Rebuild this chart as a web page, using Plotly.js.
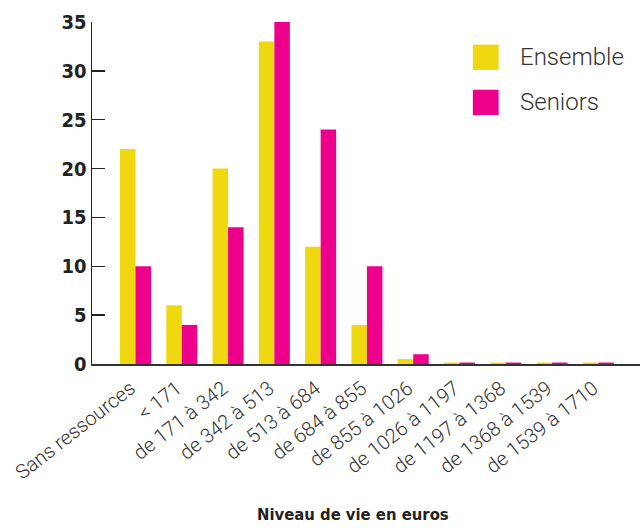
<!DOCTYPE html>
<html><head><meta charset="utf-8">
<script src="https://cdn.plot.ly/plotly-3.0.1.min.js"></script>
<style>body{margin:0;background:#fff}#c{width:640px;height:528px}</style>
</head><body><div id="c"></div>
<script>
const categories = ["Sans ressources","< 171","de 171 à 342","de 342 à 513","de 513 à 684","de 684 à 855","de 855 à 1026","de 1026 à 1197","de 1197 à 1368","de 1368 à 1539","de 1539 à 1710"];
const ensemble = [22, 6, 20, 33, 12, 4, 0.5, 0.15, 0.15, 0.15, 0.15];
const seniors  = [10, 4, 14, 35, 24, 10, 1, 0.15, 0.15, 0.15, 0.15];
const seriesNames = ["Ensemble", "Seniors"];
const seriesColors = ["#efd80f", "#ec008c"];
const yTicks = [0,5,10,15,20,25,30,35];
const xTitle = "Niveau de vie en euros";

const xIdx = categories.map((_, i) => i);
const traces = [ensemble, seniors].map((vals, k) => ({
  type:'bar', name:seriesNames[k], x:xIdx, y:vals, marker:{color:seriesColors[k]}
}));

const narrow = 'DejaVu Sans Condensed, DejaVu Sans, sans-serif';
const light = 'Roboto, Liberation Sans, sans-serif';

// manual legend (large square swatches)
const legShapes = [], legAnn = [];
const legY = [0.897, 0.765];
seriesNames.forEach((n, k) => {
  legShapes.push({type:'rect', xref:'paper', yref:'paper', x0:0.695, x1:0.742,
    y0:legY[k]-0.037, y1:legY[k]+0.037, fillcolor:seriesColors[k], line:{width:0}});
  legAnn.push({xref:'paper', yref:'paper', x:0.777, y:legY[k], xanchor:'left', yanchor:'middle',
    text:n, showarrow:false, font:{family:light, size:24, color:'#333', weight:300}});
});
legAnn.push({xref:'paper', yref:'paper', x:0.476, y:-0.44, xanchor:'center', yanchor:'middle',
  text:xTitle, showarrow:false, font:{family:narrow, size:16.5, color:'#222', weight:'bold', stretch:'condensed'}});

const layout = {
  width:640, height:528,
  margin:{l:92, r:0, t:22, b:164},
  paper_bgcolor:'#fff', plot_bgcolor:'#fff',
  barmode:'group', bargap:0.33, bargroupgap:0,
  showlegend:false,
  shapes:legShapes, annotations:legAnn,
  xaxis:{
    range:[-0.94, 10.9], tickmode:'array', tickvals:xIdx, ticktext:categories,
    tickangle:-38, showline:true, linecolor:'#333', linewidth:2, ticks:'', showgrid:false, zeroline:false,
    ticklabelshift:-5, ticklabelstandoff:3,
    tickfont:{family:light, size:20, color:'#333', weight:300},
    fixedrange:true, automargin:false
  },
  yaxis:{
    range:[0,35], tickmode:'array', tickvals:yTicks,
    showline:true, linecolor:'#222', linewidth:1.5, ticks:'inside', ticklen:13, tickwidth:1.5, tickcolor:'#222',
    showgrid:false, zeroline:false,
    tickfont:{family:narrow, size:20, color:'#222', weight:'bold', stretch:'condensed'},
    fixedrange:true, automargin:false
  }
};
Plotly.newPlot('c', traces, layout, {displayModeBar:false, staticPlot:true});
</script></body></html>
